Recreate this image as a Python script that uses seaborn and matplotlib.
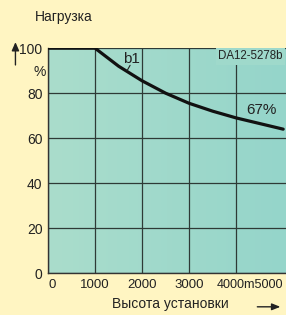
import matplotlib
matplotlib.use("Agg")
import matplotlib.pyplot as plt
from matplotlib.colors import LinearSegmentedColormap
import seaborn as sns
import numpy as np
import pandas as pd

altitude = [0, 1000, 1500, 2000, 2500, 3000, 3500, 4000, 4500, 5000]
load = [100, 100, 92, 85.5, 80, 75.5, 72, 69, 66.5, 64]
x_ticks = [0, 1000, 2000, 3000, 4000]
x_tick_labels = ["0", "1000", "2000", "3000", ""]
x_tail_label = "4000m5000"
y_ticks = [0, 20, 40, 60, 80, 100]
y_tick_labels = ["0", "20", "40", "60", "80", "100"]

sns.set_style("white")
plt.rcParams['font.family'] = ['Liberation Sans', 'DejaVu Sans']

bg = "#FFF5C2"
grid = "#2E3A36"
txt = "#222222"

fig = plt.figure(figsize=(2.86, 3.15), dpi=100, facecolor=bg)
ax = fig.add_axes([0.168, 0.133, 0.832, 0.714])

XMAX = 5060
cmap = LinearSegmentedColormap.from_list("face", ["#AADDCC", "#95D5CA"])
ax.imshow(np.linspace(0, 1, 64)[None, :], cmap=cmap, aspect="auto",
          extent=[0, XMAX, 0, 100], zorder=0, interpolation="bilinear")

df = pd.DataFrame({"alt": altitude, "load": load})
sns.lineplot(data=df, x="alt", y="load", ax=ax, color="#111111", linewidth=2.3, zorder=5)

ax.set_xlim(0, XMAX)
ax.set_ylim(0, 100)
ax.set_xticks(x_ticks)
ax.set_yticks(y_ticks)
ax.set_xticklabels(x_tick_labels, fontsize=9.5)
ax.set_yticklabels(y_tick_labels, fontsize=10)
ax.tick_params(axis="y", length=3, width=0.8, pad=1, colors=txt)
ax.tick_params(axis="x", length=0, pad=4, colors=txt)
ax.get_xticklabels()[0].set_horizontalalignment("left")
ax.set_xlabel("")
ax.set_ylabel("")
ax.grid(True, color=grid, linewidth=0.9, zorder=1)
ax.set_axisbelow(True)
for gl in ax.get_xgridlines() + ax.get_ygridlines():
    gl.set_zorder(1)
for s in ["top", "right"]:
    ax.spines[s].set_visible(False)
for s in ["left", "bottom"]:
    ax.spines[s].set_color("#333333")
    ax.spines[s].set_linewidth(1.0)

# "4000m5000" tail label, same baseline as tick labels
ax.annotate(x_tail_label, xy=(3590, 0), xycoords="data", xytext=(0, -4),
            textcoords="offset points", fontsize=9.1, color=txt,
            ha="left", va="top", annotation_clip=False)

# annotations
ax.text(1596, 93.3, "b1", fontsize=11, color=txt, zorder=6)
ax.plot([1745, 1680], [92.4, 90.0], color=txt, lw=0.8, zorder=6)
ax.text(3617, 96.4, "DA12-5278b", fontsize=8.3, color=txt, zorder=6, va="center",
        bbox=dict(boxstyle="square,pad=0.2", fc="#9FD9CB", ec="none"))
ax.text(4213, 70.7, "67%", fontsize=11, color=txt, zorder=6)

fig.text(0.122, 0.945, "Нагрузка", fontsize=10, color=txt, va="center")
fig.text(0.14, 0.77, "%", fontsize=10, color=txt, ha="center", va="center")
fig.add_artist(matplotlib.patches.FancyArrowPatch((0.054, 0.785), (0.054, 0.875),
               transform=fig.transFigure, arrowstyle="-|>,head_length=5,head_width=2.2",
               color=txt, lw=1.0, mutation_scale=1))
fig.text(0.39, 0.035, "Высота установки", fontsize=10, color=txt, va="center")
fig.add_artist(matplotlib.patches.FancyArrowPatch((0.89, 0.026), (0.99, 0.026),
               transform=fig.transFigure, arrowstyle="-|>,head_length=5,head_width=2",
               color=txt, lw=1.0, mutation_scale=1))

fig.savefig("out.png", dpi=100, facecolor=bg)
